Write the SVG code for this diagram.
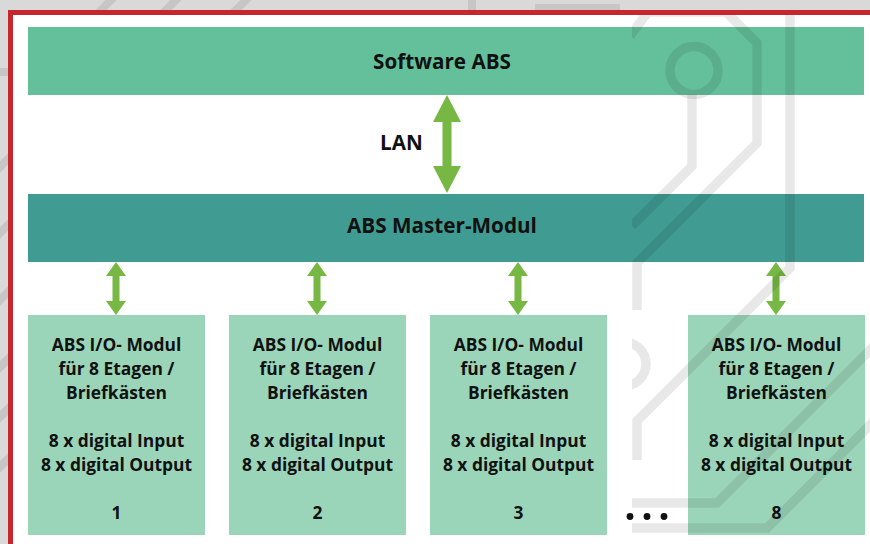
<svg xmlns="http://www.w3.org/2000/svg" width="870" height="544" viewBox="0 0 870 544">
<defs>
<style>
.t{font-family:"Open Sans","Liberation Sans",sans-serif;font-weight:700;fill:#111;text-anchor:middle}
.big{font-size:20.7px}
.sm{font-size:17.4px}
.io{fill:#9bd5b9}
.arr{fill:#76b843}
.deco{fill:none;stroke:#000;stroke-opacity:0.09;stroke-width:9.5}
.odeco{fill:none;stroke:#c6c6c6;stroke-width:8}
</style>
<clipPath id="clipR"><rect x="632" y="15" width="238" height="529"/></clipPath>
<clipPath id="clipOut"><path d="M0,0H870V10H8V544H0Z"/></clipPath>
</defs>
<rect x="0" y="0" width="870" height="544" fill="#fff"/>
<g id="outer">
<path d="M0,0H870V10H8V544H0Z" fill="#d9d9d9"/>
<g clip-path="url(#clipOut)">
<path class="odeco" d="M95,16L118,-7M160,16L183,-7M230,16L253,-7M472,-2V12M535,8H620M-2,72H20M-5,172L15,152M-5,238L15,218M-5,305L15,285M-5,372L15,352M-5,422L15,402M-5,472L15,452"/>
</g>
<path d="M8,10H870V15H13V544H8Z" fill="#c6262e"/>
</g>
<g id="software-abs">
<rect x="28" y="27" width="836" height="68" fill="#63c09a"/>
<text class="t big" x="442" y="69">Software ABS</text>
</g>
<g id="master-modul">
<rect x="28" y="194" width="836" height="68" fill="#409c92"/>
<text class="t big" x="442" y="233">ABS Master-Modul</text>
</g>
<g id="connectors">
<path class="arr" d="M447,95L461,122H451.5V166H461L447,193L433,166H442.5V122H433Z"/>
<text class="t big" x="401.5" y="150">LAN</text>
<path class="arr" d="M116,262L126,276H119.5V301H126L116,315L106,301H112.5V276H106Z"/>
<path class="arr" d="M317,262L327,276H320.5V301H327L317,315L307,301H313.5V276H307Z"/>
<path class="arr" d="M518,262L528,276H521.5V301H528L518,315L508,301H514.5V276H508Z"/>
<path class="arr" d="M776,262L786,276H779.5V301H786L776,315L766,301H772.5V276H766Z"/>
</g>
<g id="io-1">
<rect class="io" x="28" y="315" width="177" height="220"/>
<text class="t sm" x="116.5"><tspan x="116.5" y="351">ABS I/O- Modul</tspan><tspan x="116.5" y="375">für 8 Etagen /</tspan><tspan x="116.5" y="399">Briefkästen</tspan><tspan x="116.5" y="447">8 x digital Input</tspan><tspan x="116.5" y="471">8 x digital Output</tspan><tspan x="116.5" y="519">1</tspan></text>
</g>
<g id="io-2">
<rect class="io" x="229" y="315" width="177" height="220"/>
<text class="t sm" x="317.5"><tspan x="317.5" y="351">ABS I/O- Modul</tspan><tspan x="317.5" y="375">für 8 Etagen /</tspan><tspan x="317.5" y="399">Briefkästen</tspan><tspan x="317.5" y="447">8 x digital Input</tspan><tspan x="317.5" y="471">8 x digital Output</tspan><tspan x="317.5" y="519">2</tspan></text>
</g>
<g id="io-3">
<rect class="io" x="430" y="315" width="177" height="220"/>
<text class="t sm" x="518.5"><tspan x="518.5" y="351">ABS I/O- Modul</tspan><tspan x="518.5" y="375">für 8 Etagen /</tspan><tspan x="518.5" y="399">Briefkästen</tspan><tspan x="518.5" y="447">8 x digital Input</tspan><tspan x="518.5" y="471">8 x digital Output</tspan><tspan x="518.5" y="519">3</tspan></text>
</g>
<g id="ellipsis">
<circle cx="630" cy="516.5" r="3.4" fill="#111"/>
<circle cx="647" cy="516.5" r="3.4" fill="#111"/>
<circle cx="664" cy="516.5" r="3.4" fill="#111"/>
</g>
<g id="io-8">
<rect class="io" x="688" y="315" width="177" height="220"/>
<text class="t sm" x="776.5"><tspan x="776.5" y="351">ABS I/O- Modul</tspan><tspan x="776.5" y="375">für 8 Etagen /</tspan><tspan x="776.5" y="399">Briefkästen</tspan><tspan x="776.5" y="447">8 x digital Input</tspan><tspan x="776.5" y="471">8 x digital Output</tspan><tspan x="776.5" y="519">8</tspan></text>
</g>
<g id="decoration" clip-path="url(#clipR)">
<circle class="deco" cx="694" cy="70.5" r="24"/>
<path class="deco" d="M692,94.5V166L632,226"/>
<path class="deco" d="M630,36L648,12H726L757,43V143L637,263V310"/>
<path class="deco" d="M790,0V268L637,421V460"/>
<circle class="deco" cx="624" cy="364" r="22"/>
<path class="deco" d="M632,503H717L885,335"/>
<path class="deco" d="M632,528H767L880,415"/>
</g>
</svg>
